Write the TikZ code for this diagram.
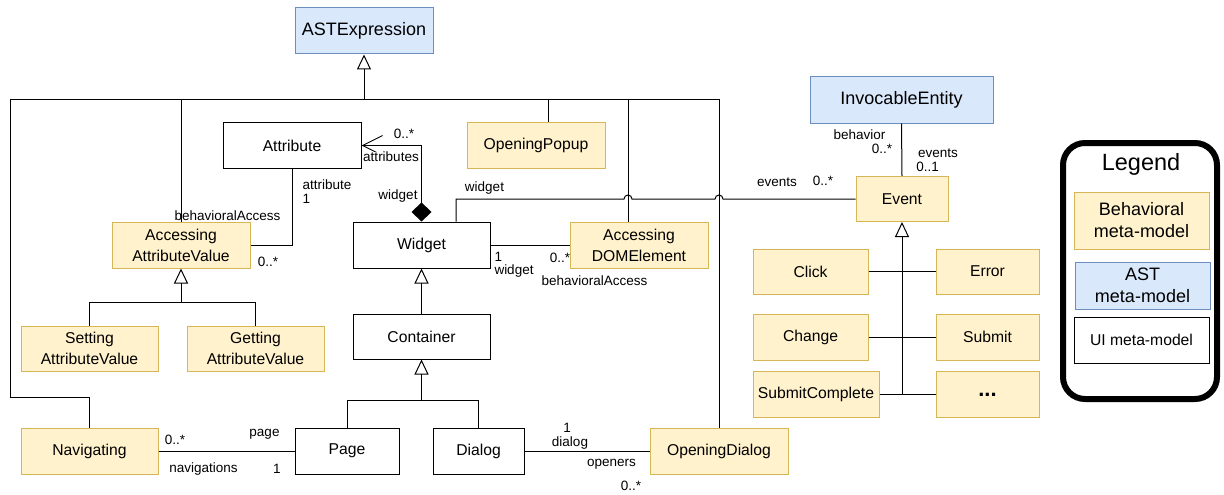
\documentclass[tikz,border=0pt]{standalone}
\usepackage{fontspec}
\setmainfont{Liberation Sans}
\usetikzlibrary{positioning, arrows.meta}
\definecolor{behfill}{HTML}{FFF2CC}
\definecolor{behdraw}{HTML}{D6B656}
\definecolor{astfill}{HTML}{DAE8FC}
\definecolor{astdraw}{HTML}{6C8EBF}

\begin{document}
\begin{tikzpicture}[x=1pt, y=-1pt, line width=1pt,
        box/.style={draw, minimum width=138pt, minimum height=46pt, align=center,
            inner sep=2pt, font=\fontsize{15.7}{21}\selectfont},
        uibox/.style={box, fill=white},
        behbox/.style={box, draw=behdraw, fill=behfill},
        astbox/.style={box, draw=astdraw, fill=astfill, font=\fontsize{18}{22}\selectfont},
        lbl/.style={inner sep=0pt, font=\fontsize{13.5}{15}\selectfont},
        gen/.style={-{Triangle[open, width=14pt, length=15pt]}}]
    \useasboundingbox (0,0) rectangle (1224,495);

    % AST part
    \node[astbox] (ast) at (364,31) {ASTExpression};
    \node[astbox, minimum width=183pt] (inv) at (901.5,100) {InvocableEntity};

    % UI meta-model
    \node[uibox] (attr) at (292,145.5) {Attribute};
    \node[uibox, minimum width=137pt] (widget) at (421.5,245) {Widget};
    \node[uibox, minimum width=137pt, minimum height=45pt] (cont) at (421.5,336.5) {Container};
    \node[uibox, minimum width=104pt] (page) at (347,451) {Page};
    \node[uibox, minimum width=91pt] (dialog) at (478.5,451) {Dialog};

    % behavioral meta-model
    \node[behbox] (popup) at (536,145.5) {OpeningPopup};
    \node[behbox] (aav) at (181,245) {Accessing\\AttributeValue};
    \node[behbox] (dom) at (639,245) {Accessing\\DOMElement};
    \node[behbox, minimum width=137pt, minimum height=45pt] (sav) at (89.5,348.5) {Setting\\AttributeValue};
    \node[behbox, minimum width=137pt, minimum height=45pt] (gav) at (255.5,348.5) {Getting\\AttributeValue};
    \node[behbox, minimum width=137pt] (nav) at (89.5,451) {Navigating};
    \node[behbox] (od) at (719,451) {OpeningDialog};
    \node[behbox, minimum width=92pt, minimum height=45pt] (event) at (902,199) {Event};
    \node[behbox, minimum width=115pt, minimum height=45pt] (click) at (810.5,271.5) {Click};
    \node[behbox, minimum width=103pt, minimum height=45pt] (error) at (987.5,271.5) {Error};
    \node[behbox, minimum width=115pt] (change) at (810.5,337) {Change};
    \node[behbox, minimum width=103pt] (submit) at (987.5,337) {Submit};
    \node[behbox, minimum width=126pt] (sc) at (816,394) {SubmitComplete};
    \node[behbox, minimum width=103pt, font=\fontsize{22}{24}\selectfont\bfseries] (dots) at (987.5,394) {\raisebox{-5pt}{...}};

    % inheritance from ASTExpression
    \coordinate (bus) at (364,99);
    \draw[gen] (nav.north) -- ++(0,-30) -| (10,99) -| (ast.south);
    \draw (aav.north) -- (aav.north |- bus);
    \draw ([xshift=12pt]popup.north) -- ([xshift=12pt]popup.north |- bus);
    \draw ([xshift=-11pt]dom.north) -- ([xshift=-11pt]dom.north |- bus);
    \draw (od.north) |- (bus);

    % other inheritance
    \draw[gen] (cont.north) -- (widget.south);
    \coordinate (cbus) at (421.5,400);
    \draw[gen] (page.north) |- (cbus) -- (cont.south);
    \draw (dialog.north) |- (cbus);
    \coordinate (abus) at (181,302);
    \draw[gen] (sav.north) |- (abus) -- (aav.south);
    \draw (gav.north) |- (abus);
    \draw (sc.east) -- (dots.west);
    \draw (click.east) -- (error.west);
    \draw (change.east) -- (submit.west);
    \draw[gen] (event.south |- sc.east) -- (event.south);

    % associations
    \draw[{Diamond[length=19pt, width=20pt]}-{Straight Barb[length=20pt, width=20pt]}] (widget.north) |- (attr.east);
    \draw (attr.south) |- (aav.east);
    \draw (widget.east) -- (dom.west);
    \draw ([xshift=34.5pt]widget.north) |- (624,199) arc (180:360:4) -- (715,199) arc (180:360:4) -- (event.west);
    \draw (inv.south) -- (event.north);
    \draw (nav.east) -- (page.west);
    \draw (dialog.east) -- (od.west);

    % role names and multiplicities
    \node[lbl] (l1) at (404,134) {0..*};
    \node[lbl, fill=white] (l2) at (391,157) {attributes};
    \node[lbl] (l3) at (398,196) {widget};
    \node[lbl, anchor=west] (l4) at (302,185) {attribute};
    \node[lbl, anchor=west] (l5) at (302,199) {1};
    \node[lbl] (l6) at (227.5,216) {behavioralAccess};
    \node[lbl] (l7) at (268,262) {0..*};
    \node[lbl] (l8) at (484.5,188) {widget};
    \node[lbl] (l9) at (777,182) {events};
    \node[lbl] (l10) at (823,181) {0..*};
    \node[lbl] (l11) at (859.5,135) {behavior};
    \node[lbl] (l12) at (882,149) {0..*};
    \node[lbl] (l13) at (938,153) {events};
    \node[lbl] (l14) at (927.5,167) {0..1};
    \node[lbl, anchor=west] (l15) at (494,257) {1};
    \node[lbl, anchor=west] (l16) at (494,271) {widget};
    \node[lbl] (l17) at (560,258) {0..*};
    \node[lbl] (l18) at (594.5,281) {behavioralAccess};
    \node[lbl] (l19) at (175,440) {0..*};
    \node[lbl] (l20) at (264.5,434) {page};
    \node[lbl] (l21) at (203.5,469) {navigations};
    \node[lbl] (l22) at (277,469) {1};
    \node[lbl] (l23) at (567,428) {1};
    \node[lbl] (l24) at (570,443) {dialog};
    \node[lbl] (l25) at (611.5,464) {openers};
    \node[lbl] (l26) at (631,486) {0..*};

    % legend
    \node[draw, line width=6pt, rounded corners=22pt, minimum width=154pt, minimum height=256pt] (legend) at (1140,271) {};
    \node[font=\fontsize{23.5}{28}\selectfont] (ltitle) at (1141,164) {Legend};
    \node[behbox, minimum width=135pt, minimum height=57pt, font=\fontsize{18}{22}\selectfont] (lbeh) at (1141.5,220.5) {Behavioral\\meta-model};
    \node[astbox, minimum width=135pt, minimum height=47pt] (last) at (1142.5,285.5) {AST\\meta-model};
    \node[uibox, minimum width=135pt] (lui) at (1141.5,340) {UI meta-model};
\end{tikzpicture}
\end{document}
